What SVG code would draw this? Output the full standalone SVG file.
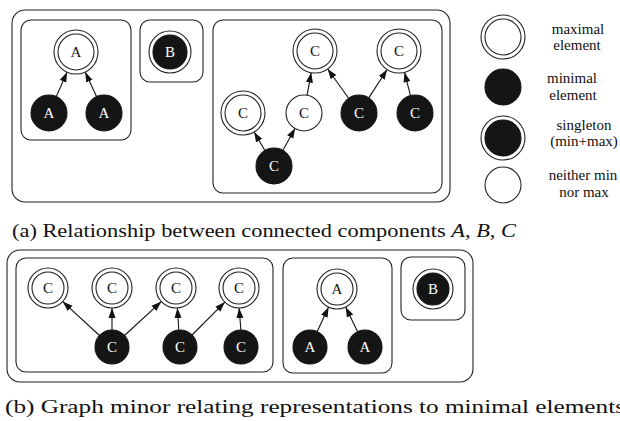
<svg xmlns="http://www.w3.org/2000/svg" width="620" height="421" viewBox="0 0 620 421">
<defs>
<style>
.box{fill:none;stroke:#222;stroke-width:1.1}
.w{fill:#fff;stroke:#222;stroke-width:1.1}
.b{fill:#151515;stroke:#151515;stroke-width:1.1}
.e{stroke:#111;stroke-width:1.1;fill:none;marker-end:url(#ah)}
.lw{font-family:"Liberation Serif","Times New Roman",serif;font-size:15px;text-anchor:middle;fill:#111}
.lb{font-family:"Liberation Serif","Times New Roman",serif;font-size:15px;text-anchor:middle;fill:#fff}
.leg{font-family:"Liberation Serif","Times New Roman",serif;font-size:15px;text-anchor:middle;fill:#111}
.cap{font-family:"Liberation Serif","DejaVu Serif",serif;font-size:18px;fill:#111}
</style>
<marker id="ah" markerUnits="userSpaceOnUse" markerWidth="10" markerHeight="8" refX="10" refY="4" orient="auto">
<path d="M0,0.5 L10,4 L0,7.5 z" fill="#111"/>
</marker>
</defs>
<rect width="620" height="421" fill="#fff"/>

<!-- top section boxes -->
<g id="outer-a"><rect class="box" x="12" y="10" width="438" height="192" rx="13"/></g>
<g id="box-A1"><rect class="box" x="21" y="20" width="110" height="120" rx="10"/></g>
<g id="box-B1"><rect class="box" x="140" y="20" width="63" height="62" rx="10"/></g>
<g id="box-C1"><rect class="box" x="213" y="20" width="229" height="173" rx="10"/></g>

<g id="edges-top">
<line class="e" x1="56.3" y1="96.5" x2="67.1" y2="72.1"/>
<line class="e" x1="96.5" y1="96.6" x2="85.2" y2="72.0"/>
<line class="e" x1="264.9" y1="150.5" x2="254.1" y2="132.0"/>
<line class="e" x1="282.9" y1="150.3" x2="295.1" y2="128.3"/>
<line class="e" x1="307.1" y1="95.3" x2="311.2" y2="72.6"/>
<line class="e" x1="348.6" y1="98.3" x2="327.7" y2="69.0"/>
<line class="e" x1="368.8" y1="97.9" x2="387.1" y2="69.5"/>
<line class="e" x1="410.5" y1="95.6" x2="404.5" y2="72.3"/>
</g>

<g id="nA1max"><circle class="w" cx="76" cy="52" r="22"/><circle class="w" cx="76" cy="52" r="18"/><text class="lw" x="76" y="57">A</text></g>
<g id="nA1min1"><circle class="b" cx="49" cy="113" r="18"/><text class="lb" x="49" y="118">A</text></g>
<g id="nA1min2"><circle class="b" cx="104" cy="113" r="18"/><text class="lb" x="104" y="118">A</text></g>
<g id="nB1"><circle class="w" cx="170" cy="52" r="21"/><circle class="b" cx="170" cy="52" r="17"/><text class="lb" x="170" y="57">B</text></g>

<g id="nC1max1"><circle class="w" cx="315" cy="51" r="22"/><circle class="w" cx="315" cy="51" r="18"/><text class="lw" x="315" y="56">C</text></g>
<g id="nC1max2"><circle class="w" cx="399" cy="51" r="22"/><circle class="w" cx="399" cy="51" r="18"/><text class="lw" x="399" y="56">C</text></g>
<g id="nC1max3"><circle class="w" cx="243" cy="113" r="22"/><circle class="w" cx="243" cy="113" r="18"/><text class="lw" x="243" y="118">C</text></g>
<g id="nC1mid"><circle class="w" cx="304" cy="113" r="18"/><text class="lw" x="304" y="118">C</text></g>
<g id="nC1min1"><circle class="b" cx="359" cy="113" r="18"/><text class="lb" x="359" y="118">C</text></g>
<g id="nC1min2"><circle class="b" cx="415" cy="113" r="18"/><text class="lb" x="415" y="118">C</text></g>
<g id="nC1min3"><circle class="b" cx="274" cy="166" r="18"/><text class="lb" x="274" y="171">C</text></g>

<!-- legend -->
<g id="legend">
<circle class="w" cx="503" cy="37" r="22"/><circle class="w" cx="503" cy="37" r="18"/>
<circle class="b" cx="503" cy="87" r="18"/>
<circle class="w" cx="503" cy="138" r="22"/><circle class="b" cx="503" cy="138" r="18"/>
<circle class="w" cx="503" cy="185" r="18"/>
<text class="leg" x="578" y="34">maximal</text>
<text class="leg" x="577" y="50">element</text>
<text class="leg" x="572" y="83">minimal</text>
<text class="leg" x="573" y="100">element</text>
<text class="leg" x="584" y="130">singleton</text>
<text class="leg" x="584" y="146">(min+max)</text>
<text class="leg" x="583" y="180">neither min</text>
<text class="leg" x="584" y="197">nor max</text>
</g>

<text class="cap" x="12" y="237" textLength="504" lengthAdjust="spacingAndGlyphs">(a) Relationship between connected components <tspan font-style="italic">A</tspan>, <tspan font-style="italic">B</tspan>, <tspan font-style="italic">C</tspan></text>

<!-- bottom section -->
<g id="outer-b"><rect class="box" x="7" y="250" width="466" height="132" rx="13"/></g>
<g id="box-C2"><rect class="box" x="16" y="258" width="257" height="114" rx="10"/></g>
<g id="box-A2"><rect class="box" x="283" y="258" width="109" height="115" rx="10"/></g>
<g id="box-B2"><rect class="box" x="401" y="257" width="64" height="63" rx="10"/></g>

<g id="edges-bottom">
<line class="e" x1="99.5" y1="335.5" x2="62.7" y2="301.6"/>
<line class="e" x1="112" y1="330" x2="112" y2="308"/>
<line class="e" x1="124.5" y1="335.5" x2="161.3" y2="301.6"/>
<line class="e" x1="178.8" y1="330" x2="177.4" y2="308"/>
<line class="e" x1="192" y1="335" x2="224.9" y2="302.1"/>
<line class="e" x1="240.9" y1="330" x2="239.1" y2="308"/>
<line class="e" x1="317.2" y1="331.6" x2="328.6" y2="307.1"/>
<line class="e" x1="357.6" y1="331.7" x2="345.7" y2="307.0"/>
</g>

<g id="nC2max1"><circle class="w" cx="48" cy="288" r="20"/><circle class="w" cx="48" cy="288" r="16"/><text class="lw" x="48" y="293">C</text></g>
<g id="nC2max2"><circle class="w" cx="112" cy="288" r="20"/><circle class="w" cx="112" cy="288" r="16"/><text class="lw" x="112" y="293">C</text></g>
<g id="nC2max3"><circle class="w" cx="176" cy="288" r="20"/><circle class="w" cx="176" cy="288" r="16"/><text class="lw" x="176" y="293">C</text></g>
<g id="nC2max4"><circle class="w" cx="239" cy="288" r="20"/><circle class="w" cx="239" cy="288" r="16"/><text class="lw" x="239" y="293">C</text></g>
<g id="nC2min1"><circle class="b" cx="112" cy="347" r="17"/><text class="lb" x="112" y="352">C</text></g>
<g id="nC2min2"><circle class="b" cx="180" cy="347" r="17"/><text class="lb" x="180" y="352">C</text></g>
<g id="nC2min3"><circle class="b" cx="241" cy="347" r="17"/><text class="lb" x="241" y="352">C</text></g>

<g id="nA2max"><circle class="w" cx="337" cy="289" r="20"/><circle class="w" cx="337" cy="289" r="16"/><text class="lw" x="337" y="294">A</text></g>
<g id="nA2min1"><circle class="b" cx="310" cy="347" r="17"/><text class="lb" x="310" y="352">A</text></g>
<g id="nA2min2"><circle class="b" cx="365" cy="347" r="17"/><text class="lb" x="365" y="352">A</text></g>
<g id="nB2"><circle class="w" cx="433" cy="289" r="20"/><circle class="b" cx="433" cy="289" r="16"/><text class="lb" x="433" y="294">B</text></g>

<text class="cap" x="5" y="413" textLength="620" lengthAdjust="spacingAndGlyphs">(b) Graph minor relating representations to minimal elements</text>
</svg>
